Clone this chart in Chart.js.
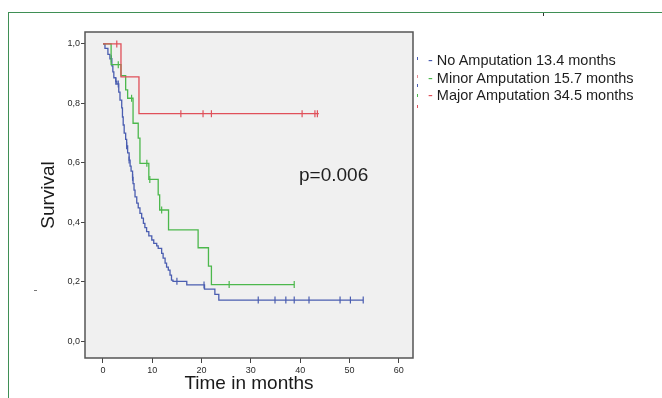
<!DOCTYPE html>
<html>
<head>
<meta charset="utf-8">
<script src="https://cdn.jsdelivr.net/npm/chart.js@4.4.0/dist/chart.umd.min.js"></script>
<style>
  html, body { margin: 0; padding: 0; background: #fff; }
  #wrap { position: relative; width: 662px; height: 398px; overflow: hidden; font-family: "Liberation Sans", Arial, sans-serif; }
  #frame { position: absolute; left: 8px; top: 12px; width: 700px; height: 400px; border-top: 1px solid #3f8f55; border-left: 1px solid #3f8f55; }
  #topTick { position: absolute; left: 543px; top: 13px; width: 1px; height: 3px; background: #333; }
  #stray { position: absolute; left: 34px; top: 290px; width: 3px; height: 1px; background: #777; }
  canvas { position: absolute; left: 0; top: 0; }
  .legend { position: absolute; left: 428px; top: 52px; font-size: 14.5px; line-height: 17.5px; color: #1e1e1e; white-space: nowrap; }
  .mark { position: absolute; left: 417px; width: 1px; height: 3px; }
  #pval { position: absolute; left: 299px; top: 164px; font-size: 19px; color: #1e1e1e; }
</style>
</head>
<body>
<div id="wrap">
  <div id="frame"></div>
  <div id="topTick"></div>
  <div id="stray"></div>
  <canvas id="kmChart" width="662" height="398"></canvas>
  <div class="mark" style="top:57px;background:#4a5db0"></div>
  <div class="mark" style="top:75px;background:#e58a90"></div>
  <div class="mark" style="top:84px;background:#4a5db0"></div>
  <div class="mark" style="top:94px;background:#4cb84c"></div>
  <div class="mark" style="top:105px;background:#e0505a"></div>
  <div class="legend">
    <div><span style="color:#4a5db0">-</span> No Amputation 13.4 months</div>
    <div><span style="color:#4cb84c">-</span> Minor Amputation 15.7 months</div>
    <div><span style="color:#e0505a">-</span> Major Amputation 34.5 months</div>
  </div>
  <div id="pval">p=0.006</div>
</div>
<script>
// Kaplan-Meier krzywe przezycia, wartosci
const tickValuesX = [0, 10, 20, 30, 40, 50, 60];
const tickValuesY = [0, 0.2, 0.4, 0.6, 0.8, 1.0];
const tickLabelsY = ['0,0', '0,2', '0,4', '0,6', '0,8', '1,0'];

// No Amputation
const blueTimes = [0, 0.4, 1.0, 1.4, 1.8, 2.0, 2.2, 2.6, 2.8, 3.2, 3.45, 3.8, 3.95, 4.1, 4.3, 4.6, 4.8, 5.0, 5.3, 5.5, 5.7, 6.0, 6.1, 6.3, 6.5, 6.85, 7.15, 7.5, 7.85, 8.2, 8.5, 8.85, 9.3, 9.9, 10.3, 10.9, 11.2, 11.9, 12.2, 12.6, 12.9, 13.25, 13.6, 13.9, 14.2, 17.0, 20.6, 22.7, 23.5, 52.8];
const blueSurv = [1.0, 0.985, 0.965, 0.95, 0.926, 0.906, 0.886, 0.874, 0.865, 0.838, 0.811, 0.785, 0.754, 0.727, 0.70, 0.679, 0.657, 0.633, 0.609, 0.589, 0.572, 0.551, 0.53, 0.508, 0.485, 0.464, 0.448, 0.43, 0.414, 0.396, 0.382, 0.368, 0.354, 0.34, 0.329, 0.32, 0.312, 0.295, 0.279, 0.262, 0.249, 0.239, 0.222, 0.205, 0.201, 0.189, 0.175, 0.157, 0.138, 0.138];
const blueCensor = [1.7, 2.6, 3.1, 4.8, 5.3, 6.0, 15.0, 20.5, 31.5, 34.9, 37.1, 38.8, 41.8, 48.1, 50.2, 52.8];

// Minor Amputation
const greenTimes = [0, 1.65, 3.65, 4.6, 5.0, 6.1, 7.15, 7.5, 9.3, 11.2, 11.5, 13.3, 19.3, 21.4, 22.0, 38.8];
const greenSurv = [1.0, 0.93, 0.893, 0.845, 0.817, 0.733, 0.683, 0.598, 0.544, 0.492, 0.441, 0.374, 0.314, 0.252, 0.19, 0.19];
const greenCensor = [3.1, 5.8, 8.9, 9.5, 11.9, 25.6, 38.8];

// Major Amputation
const redTimes = [0, 3.65, 7.3, 43.8];
const redSurv = [1.0, 0.889, 0.765, 0.765];
const redCensor = [2.8, 15.8, 20.3, 22.0, 40.4, 43.0, 43.5];

const blueColor = '#4a5db0';
const greenColor = '#4cb84c';
const redColor = '#e0505a';

function toPoints(times, surv) {
    return times.map((t, i) => ({ x: t, y: surv[i] }));
}

function survAt(times, surv, t) {
    let s = surv[0];
    for (let i = 0; i < times.length; i++) {
        if (times[i] <= t) s = surv[i];
    }
    return s;
}

function censorPoints(censor, times, surv) {
    return censor.map(t => ({ x: t, y: survAt(times, surv, t) }));
}

function curve(times, surv, color) {
    return {
        data: toPoints(times, surv),
        borderColor: color,
        borderWidth: 1.3,
        stepped: 'before',
        pointRadius: 0,
        fill: false
    };
}

function marks(censor, times, surv, color) {
    return {
        data: censorPoints(censor, times, surv),
        showLine: false,
        borderColor: color,
        backgroundColor: color,
        borderWidth: 1.2,
        pointStyle: 'line',
        rotation: 90,
        pointRadius: 3.5
    };
}

// szare tlo i ramka obszaru wykresu
const plotBox = {
    id: 'plotBox',
    beforeDraw(chart) {
        const a = chart.chartArea;
        const ctx = chart.ctx;
        ctx.save();
        ctx.fillStyle = '#f0f0f0';
        ctx.fillRect(a.left, a.top, a.right - a.left, a.bottom - a.top);
        ctx.restore();
    },
    afterDatasetsDraw(chart) {
        const a = chart.chartArea;
        const ctx = chart.ctx;
        ctx.save();
        ctx.strokeStyle = '#555';
        ctx.lineWidth = 1.5;
        ctx.strokeRect(a.left, a.top, a.right - a.left, a.bottom - a.top);
        ctx.restore();
    }
};

const ctx = document.getElementById('kmChart').getContext('2d');
new Chart(ctx, {
    type: 'line',
    data: {
        datasets: [
            curve(redTimes, redSurv, redColor),
            marks(redCensor, redTimes, redSurv, redColor),
            curve(greenTimes, greenSurv, greenColor),
            marks(greenCensor, greenTimes, greenSurv, greenColor),
            curve(blueTimes, blueSurv, blueColor),
            marks(blueCensor, blueTimes, blueSurv, blueColor)
        ]
    },
    plugins: [plotBox],
    options: {
        responsive: false,
        animation: false,
        devicePixelRatio: 1,
        layout: { padding: { left: 30, top: 32, right: 249, bottom: 0 } },
        plugins: {
            legend: { display: false },
            tooltip: { enabled: false }
        },
        scales: {
            x: {
                type: 'linear',
                min: -3.65,
                max: 62.9,
                afterBuildTicks: axis => { axis.ticks = tickValuesX.map(v => ({ value: v })); },
                afterFit: scale => { scale.height = 40; },
                border: { display: false },
                grid: { drawOnChartArea: false, drawTicks: true, tickLength: 5, tickColor: '#444', lineWidth: 1 },
                ticks: { color: '#2a2a2a', font: { size: 9, family: 'Liberation Sans' }, padding: 2, maxRotation: 0 },
                title: {
                    display: true,
                    text: 'Time in months',
                    color: '#1a1a1a',
                    font: { size: 19, family: 'Liberation Sans' },
                    padding: { top: 0, bottom: 3 }
                }
            },
            y: {
                min: -0.057,
                max: 1.04,
                afterBuildTicks: axis => { axis.ticks = tickValuesY.map(v => ({ value: v })); },
                afterFit: scale => { scale.width = 55; },
                border: { display: false },
                grid: { drawOnChartArea: false, drawTicks: true, tickLength: 4, tickColor: '#444', lineWidth: 1 },
                ticks: {
                    color: '#2a2a2a',
                    font: { size: 9, family: 'Liberation Sans' },
                    padding: 1,
                    callback: value => tickLabelsY[tickValuesY.indexOf(value)]
                },
                title: {
                    display: true,
                    text: 'Survival',
                    color: '#1a1a1a',
                    font: { size: 19, family: 'Liberation Sans' },
                    padding: { top: 7, bottom: 0 }
                }
            }
        }
    }
});
</script>
</body>
</html>
